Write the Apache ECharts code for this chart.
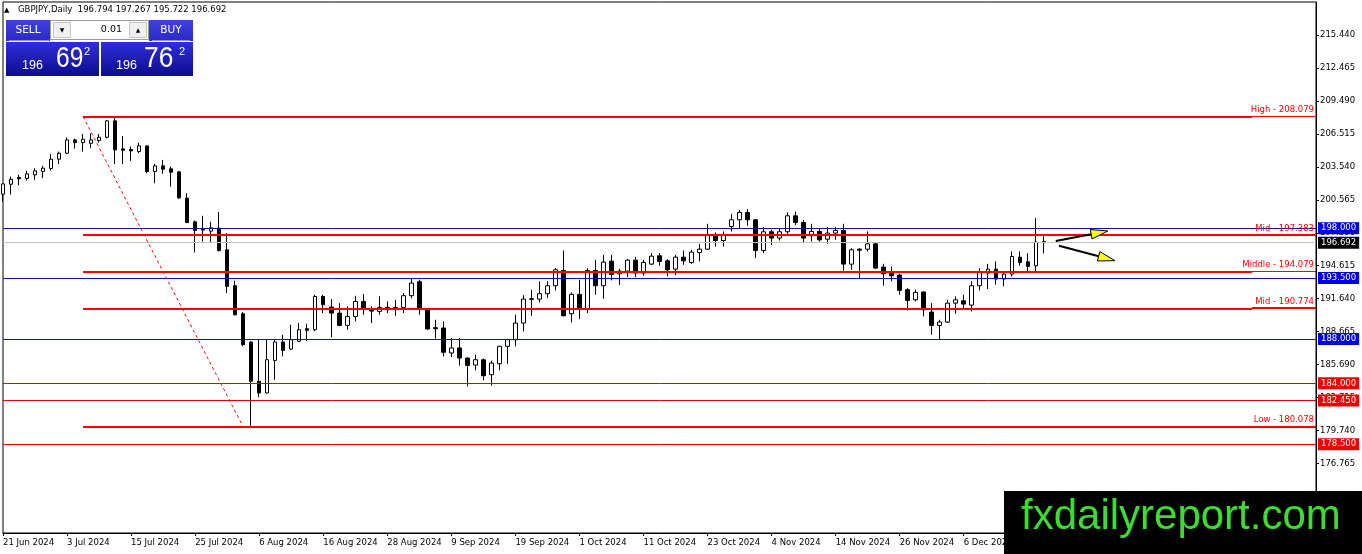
<!DOCTYPE html>
<html><head><meta charset="utf-8">
<script src="https://cdn.jsdelivr.net/npm/echarts@6/dist/echarts.min.js"></script>
<style>html,body{margin:0;padding:0;background:#fff;}#c{width:1362px;height:554px;}</style>
</head><body><div id="c"></div>
<script>
const FONT = '"DejaVu Sans", Verdana, sans-serif';
const SANS = '"Liberation Sans", Arial, sans-serif';

// Daily GBPJPY bars (21 Jun 2024 onward, weekdays)
const openV = [201.07,201.97,202.58,202.49,202.82,203.12,203.39,204.23,204.77,205.97,
205.73,205.67,205.91,206.21,207.69,205.16,205.10,204.92,205.43,203.12,
203.63,203.36,203.09,200.71,198.58,197.89,197.74,198.01,196.05,192.81,
190.28,187.73,184.18,183.13,186.07,187.73,187.09,187.79,188.93,188.84,
191.84,190.88,190.34,189.23,190.04,191.39,190.61,190.49,190.85,190.70,
190.85,191.91,193.17,190.70,189.02,188.99,186.74,187.19,186.28,185.65,
186.13,184.78,185.77,187.34,187.94,189.44,191.64,191.60,192.09,192.81,
194.19,190.28,192.03,190.70,194.19,192.81,195.03,193.89,194.13,195.12,
193.95,194.76,195.51,195.06,194.31,195.39,194.91,195.81,196.11,197.32,
196.89,198.16,198.76,199.42,198.76,195.99,197.68,197.11,197.68,199.12,
198.52,197.32,197.71,197.01,197.56,197.80,194.76,196.11,196.11,196.59,
194.49,194.01,193.77,192.45,191.54,192.24,190.43,189.23,189.53,191.24,
191.45,191.06,192.81,193.95,194.31,193.41,193.86,195.39,194.97,194.61,
196.794];
const highV = [202.00,202.66,202.82,203.18,203.42,203.63,204.71,204.92,206.18,206.09,
206.51,206.57,206.51,207.78,208.079,206.33,205.37,205.73,205.49,203.81,
204.17,203.57,203.15,201.16,198.70,199.12,198.58,199.48,197.56,193.26,
190.43,187.79,187.99,187.99,187.99,188.39,189.29,189.44,189.38,191.99,
191.99,191.60,191.24,190.94,191.91,192.06,190.94,191.85,191.39,191.54,
192.15,193.50,193.35,190.79,189.74,189.59,188.09,188.09,186.34,186.58,
186.25,186.04,187.40,188.03,190.19,191.96,192.45,193.20,193.20,194.40,
195.99,192.21,193.35,194.40,195.15,195.60,195.60,194.34,195.21,195.42,
195.15,195.75,195.75,195.21,195.60,195.99,196.05,196.59,198.40,197.62,
197.71,199.30,199.66,199.72,198.82,198.10,197.86,197.92,199.42,199.51,
198.76,198.40,197.92,198.10,198.10,198.40,196.20,196.20,197.71,196.71,
194.79,194.55,193.89,192.60,192.45,192.30,191.24,189.74,191.54,191.84,
192.00,193.20,194.40,194.79,195.00,194.10,195.90,195.90,195.75,198.91,
197.267];
const lowV = [200.41,201.04,201.88,202.30,202.36,202.52,203.21,203.78,204.71,205.19,
204.92,205.22,205.73,206.12,203.78,203.78,204.08,204.77,202.97,202.06,
202.91,201.76,200.65,198.46,195.81,196.80,196.71,195.90,192.15,190.13,
187.34,180.078,182.74,183.07,184.33,186.43,187.03,187.73,187.79,188.69,
190.34,188.15,189.14,188.84,189.59,190.19,189.44,190.19,190.34,190.10,
190.34,191.69,190.19,188.84,188.03,186.43,186.37,185.59,183.73,185.17,
184.27,183.79,185.17,185.77,187.34,188.69,190.10,191.30,191.69,192.39,
190.04,189.50,189.80,190.34,192.00,191.63,193.29,192.87,193.59,193.59,
193.71,194.67,194.61,193.65,193.77,194.70,194.79,195.00,196.05,196.35,
196.35,197.71,198.01,198.22,195.30,195.75,196.50,196.89,197.32,198.28,
196.65,196.80,196.80,196.59,196.95,194.19,194.25,193.50,195.90,194.31,
192.81,193.20,192.00,190.58,191.39,190.04,188.39,188.00,189.44,190.28,
190.70,190.49,192.39,192.51,192.90,192.75,193.65,194.61,194.10,194.10,
195.722];
const closeV = [202.00,202.42,202.46,202.91,203.18,203.42,204.23,204.77,205.97,205.73,
206.03,205.97,206.21,207.69,205.07,205.04,204.98,205.43,203.12,203.63,
203.33,203.06,200.74,198.52,197.80,197.83,198.04,195.99,192.75,190.19,
187.49,184.18,183.13,186.13,187.73,186.97,187.94,188.84,188.78,191.84,
191.09,190.34,189.23,190.04,191.39,190.70,190.52,190.85,190.64,190.85,
191.91,193.05,190.70,188.90,188.93,186.80,187.19,186.28,185.62,186.13,
184.69,185.83,187.34,187.94,189.44,191.60,191.58,192.09,192.81,194.25,
190.10,192.03,190.70,194.19,192.81,194.94,193.83,194.13,195.12,193.95,
194.91,195.48,195.00,194.25,195.39,195.06,195.84,196.11,197.38,196.89,
197.44,198.76,199.42,198.76,195.99,197.68,197.11,197.68,199.12,198.52,
197.11,197.71,196.95,197.56,197.80,194.76,196.05,196.02,196.59,194.40,
193.89,193.71,192.39,191.48,192.21,190.64,189.23,189.53,191.24,191.54,
191.15,192.81,194.04,194.31,193.41,193.86,195.45,194.91,194.55,196.74,
196.692];

const xTickLabels = ['21 Jun 2024','3 Jul 2024','15 Jul 2024','25 Jul 2024','6 Aug 2024','16 Aug 2024',
'28 Aug 2024','9 Sep 2024','19 Sep 2024','1 Oct 2024','11 Oct 2024','23 Oct 2024','4 Nov 2024',
'14 Nov 2024','26 Nov 2024','6 Dec 2024','18 Dec 2024'];
const yTickValues = [173.790,176.765,179.740,182.715,185.690,188.665,191.640,194.615,197.590,
200.565,203.540,206.515,209.490,212.465,215.440];

const fibNames = ['High','Mid','Middle','Mid','Low'];
const fibValues = [208.079,197.383,194.079,190.774,180.078];
const fibStartBar = 10, fibEndBar = 30, fibLabelBar = 156;

const levelValues = [198.000,193.500,188.000,184.000,182.450,178.500];
const levelKinds  = ['blue','blue','blue','red','red','red'];
const bidPrice = 196.692;

// hand-drawn arrows: [bar, price] of start and tip
const arrowStart = [[131.5,196.85],[131.9,196.42]];
const arrowTip   = [[138.0,197.75],[138.9,195.07]];

const TICK_STEP = 8;
const SLOTS = 165;
const categories = Array.from({length: SLOTS}, (_, i) => String(i));
const nBars = openV.length;

const chart = echarts.init(document.getElementById('c'), null, {renderer: 'canvas'});

const LINE_BLUE = '#1010c0', LABEL_BLUE = '#0000e6';
const LINE_RED = '#e00000', LABEL_RED = '#f00000';

const mlData = [];
levelValues.forEach((v, i) => {
  const blue = levelKinds[i] === 'blue';
  mlData.push({
    yAxis: v,
    lineStyle: {color: blue ? LINE_BLUE : LINE_RED, width: 1, type: 'solid'},
    label: {show: true, position: 'end', distance: 2, formatter: v.toFixed(3),
      color: '#fff', backgroundColor: blue ? LABEL_BLUE : LABEL_RED, textBorderWidth: 0,
      padding: [2, 3, 1, 3], fontSize: 8.5, fontFamily: FONT}
  });
});
mlData.push({
  yAxis: bidPrice,
  lineStyle: {color: '#c0c0c0', width: 1, type: 'solid'},
  label: {show: true, position: 'end', distance: 2, formatter: bidPrice.toFixed(3), textBorderWidth: 0,
    color: '#fff', backgroundColor: '#000', padding: [2, 3, 1, 3], fontSize: 8.5, fontFamily: FONT}
});
fibValues.forEach((v, i) => {
  mlData.push([
    {coord: [String(fibStartBar), v], lineStyle: {color: '#ff0000', width: 1, type: 'solid'},
     label: {show: true, position: 'insideEndTop', distance: 2, formatter: fibNames[i] + ' - ' + v.toFixed(3),
       color: '#ff0000', textBorderWidth: 0, fontSize: 8.5, fontFamily: FONT}},
    {coord: [String(SLOTS - 1), v]}
  ]);
  mlData.push([
    {coord: [String(fibStartBar), v], lineStyle: {color: '#ff0000', width: 2, type: 'solid'}, label: {show: false}},
    {coord: [String(fibLabelBar), v]}
  ]);
});
mlData.push([
  {coord: [String(fibStartBar), fibValues[0]], lineStyle: {color: '#ff0000', width: 1, type: [3, 3]}, label: {show: false}},
  {coord: [String(fibEndBar), fibValues[4]]}
]);

const showTick = (idx) => idx % TICK_STEP === 0 && idx < nBars;

chart.setOption({
  animation: false,
  backgroundColor: '#fff',
  grid: {left: 2, top: 2, right: 46, bottom: 21, show: true, borderColor: '#000', borderWidth: 1, backgroundColor: 'transparent'},
  xAxis: {
    type: 'category', data: categories, boundaryGap: false,
    axisLine: {show: true, lineStyle: {color: '#000', width: 1}},
    axisTick: {show: true, interval: (i) => showTick(i), length: 3, lineStyle: {color: '#000'}},
    axisLabel: {show: true, interval: (i) => showTick(i), align: 'left', margin: 5,
      formatter: (val, idx) => xTickLabels[Math.round(idx / TICK_STEP)] || '',
      color: '#000', fontSize: 8.5, fontFamily: FONT},
    splitLine: {show: false}
  },
  yAxis: {
    type: 'value', position: 'right', min: 170.49, max: 218.42,
    axisLine: {show: true, lineStyle: {color: '#000', width: 1}},
    axisTick: {show: true, length: 3, customValues: yTickValues, lineStyle: {color: '#000'}},
    axisLabel: {show: true, customValues: yTickValues, margin: 4, formatter: (v) => Number(v).toFixed(3),
      color: '#000', fontSize: 8.5, fontFamily: FONT},
    splitLine: {show: false}
  },
  series: [{
    type: 'candlestick',
    data: openV.map((o, i) => [o, closeV[i], lowV[i], highV[i]]),
    barWidth: 4,
    clip: true,
    itemStyle: {color: '#fff', color0: '#000', borderColor: '#000', borderColor0: '#000', borderColorDoji: '#000', borderWidth: 1},
    markLine: {symbol: ['none', 'none'], silent: true, animation: false, precision: 3, data: mlData}
  }]
});

// annotation graphics (panel, header, watermark, arrows, fib label underlines)
function toPx(bar, price) {
  const a = chart.convertToPixel({gridIndex: 0}, ['0', price]);
  const b = chart.convertToPixel({gridIndex: 0}, ['1', price]);
  return [a[0] + (b[0] - a[0]) * bar, a[1]];
}
const extraEls = [];
fibValues.forEach((v) => {
  const a = toPx(fibLabelBar, v), b = toPx(SLOTS - 1, v);
  const yy = Math.round(a[1]) - 0.5;
  extraEls.push({type: 'line', z: 49, shape: {x1: a[0], y1: yy, x2: b[0], y2: yy}, style: {stroke: '#ff0000', lineWidth: 1}});
});
arrowStart.forEach((s, i) => {
  const p0 = toPx(s[0], s[1]);
  const p1 = toPx(arrowTip[i][0], arrowTip[i][1]);
  const dx = p1[0] - p0[0], dy = p1[1] - p0[1];
  const len = Math.hypot(dx, dy), ux = dx / len, uy = dy / len;
  const hl = 17, hw = 4.8;
  const bx = p1[0] - ux * hl, by = p1[1] - uy * hl;
  extraEls.push({type: 'line', z: 50, shape: {x1: p0[0], y1: p0[1], x2: bx + ux * 4, y2: by + uy * 4},
    style: {stroke: '#000', lineWidth: 2}});
  extraEls.push({type: 'polygon', z: 51, shape: {points: [[p1[0], p1[1]], [bx - uy * hw, by + ux * hw], [bx + uy * hw, by - ux * hw]]},
    style: {fill: '#ffff00', stroke: '#000', lineWidth: 1}});
});

const priceGrad = new echarts.graphic.LinearGradient(0, 0, 0, 1, [{offset: 0, color: '#2f2fd8'}, {offset: 1, color: '#0c0c8e'}]);
const btnGrad = new echarts.graphic.LinearGradient(0, 0, 0, 1, [{offset: 0, color: '#4040dc'}, {offset: 1, color: '#2a2ac8'}]);

const panel = [
  {type: 'text', x: 4, y: 10, z: 60, style: {text: '▲', fontSize: 7, fill: '#000', verticalAlign: 'middle', fontFamily: FONT}},
  {type: 'text', x: 18, y: 10, z: 60, style: {text: 'GBPJPY,Daily  196.794 197.267 195.722 196.692', fontSize: 8.5, fill: '#000', verticalAlign: 'middle', fontFamily: FONT}},
  {type: 'rect', z: 60, shape: {x: 6, y: 20, width: 44, height: 21}, style: {fill: btnGrad}},
  {type: 'text', x: 28, y: 30, z: 61, style: {text: 'SELL', fontSize: 10.5, fill: '#fff', align: 'center', verticalAlign: 'middle', fontFamily: FONT}},
  {type: 'line', z: 61, shape: {x1: 9, y1: 40.5, x2: 49, y2: 40.5}, style: {stroke: '#8c8cff', lineWidth: 1}},
  {type: 'rect', z: 60, shape: {x: 50.5, y: 20.5, width: 98, height: 19}, style: {fill: '#fff', stroke: '#9a9a9a', lineWidth: 1}},
  {type: 'rect', z: 61, shape: {x: 53.5, y: 22.5, width: 17, height: 15}, style: {fill: '#f0f0f0', stroke: '#c4c4c4', lineWidth: 1}},
  {type: 'text', x: 62, y: 30, z: 62, style: {text: '▼', fontSize: 6, fill: '#000', align: 'center', verticalAlign: 'middle', fontFamily: FONT}},
  {type: 'text', x: 122, y: 30, z: 62, style: {text: '0.01', fontSize: 9.5, fill: '#000', align: 'right', verticalAlign: 'middle', fontFamily: FONT}},
  {type: 'rect', z: 61, shape: {x: 129.5, y: 22.5, width: 17, height: 15}, style: {fill: '#f0f0f0', stroke: '#c4c4c4', lineWidth: 1}},
  {type: 'text', x: 138, y: 30, z: 62, style: {text: '▲', fontSize: 6, fill: '#000', align: 'center', verticalAlign: 'middle', fontFamily: FONT}},
  {type: 'rect', z: 60, shape: {x: 149, y: 20, width: 44, height: 21}, style: {fill: btnGrad}},
  {type: 'text', x: 171, y: 30, z: 61, style: {text: 'BUY', fontSize: 10.5, fill: '#fff', align: 'center', verticalAlign: 'middle', fontFamily: FONT}},
  {type: 'line', z: 61, shape: {x1: 152, y1: 40.5, x2: 190, y2: 40.5}, style: {stroke: '#8c8cff', lineWidth: 1}},
  {type: 'rect', z: 60, shape: {x: 6, y: 42, width: 93, height: 34}, style: {fill: priceGrad}},
  {type: 'rect', z: 60, shape: {x: 101, y: 42, width: 92, height: 34}, style: {fill: priceGrad}},
  {type: 'text', x: 22, y: 65.6, z: 61, style: {text: '196', fontSize: 12.5, fill: '#fff', verticalAlign: 'middle', fontFamily: SANS}},
  {type: 'text', x: 56, y: 59, z: 61, scaleX: 0.82, originX: 0, style: {text: '69', fontSize: 30, fill: '#fff', verticalAlign: 'middle', fontFamily: SANS}},
  {type: 'text', x: 84, y: 52, z: 61, style: {text: '2', fontSize: 11, fill: '#fff', verticalAlign: 'middle', fontFamily: SANS}},
  {type: 'text', x: 116, y: 65.6, z: 61, style: {text: '196', fontSize: 12.5, fill: '#fff', verticalAlign: 'middle', fontFamily: SANS}},
  {type: 'text', x: 144, y: 59, z: 61, scaleX: 0.88, originX: 0, style: {text: '76', fontSize: 30, fill: '#fff', verticalAlign: 'middle', fontFamily: SANS}},
  {type: 'text', x: 179, y: 52, z: 61, style: {text: '2', fontSize: 11, fill: '#fff', verticalAlign: 'middle', fontFamily: SANS}},
  // watermark
  {type: 'rect', z: 90, shape: {x: 1004, y: 491, width: 358, height: 63}, style: {fill: '#000'}},
  {type: 'text', x: 1021, y: 517, z: 91, style: {text: 'fxdailyreport.com', fontSize: 42, fill: '#3cdc32', verticalAlign: 'middle', fontFamily: SANS}}
];

chart.setOption({graphic: {elements: panel.concat(extraEls)}});
</script>
</body></html>
